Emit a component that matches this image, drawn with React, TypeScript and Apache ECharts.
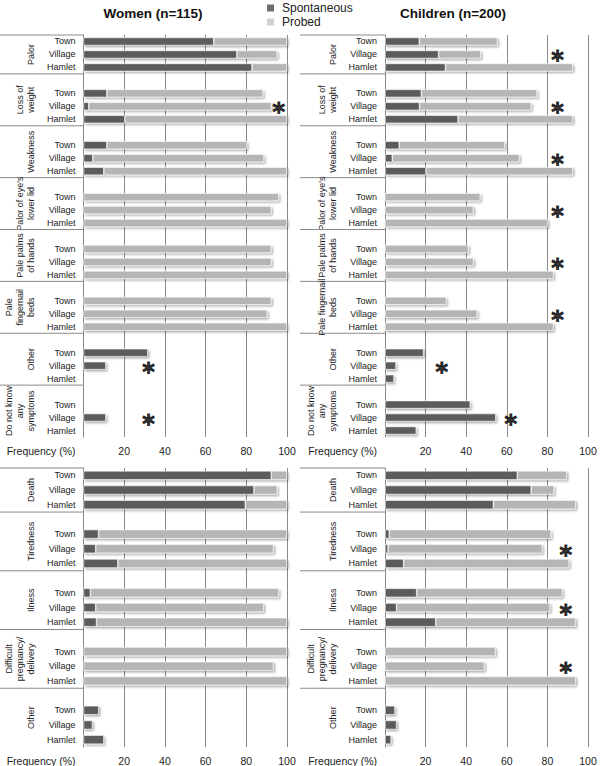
import React, { useEffect, useRef } from "react";
import * as echarts from "echarts";

// ---------- data ----------
const ROWS = ["Town", "Village", "Hamlet"];

const womenTopGroups = ["Palor", "Loss of\nweight", "Weakness", "Palor of eye's\nlower lid", "Pale palms\nof hands", "Pale\nfingernail\nbeds", "Other", "Do not know\nany\nsymptoms"];
const childTopGroups = ["Palor", "Loss of\nweight", "Weakness", "Palor of eye's\nlower lid", "Pale palms\nof hands", "Pale fingernail\nbeds", "Other", "Do not know\nany\nsymptoms"];
const bottomGroups = ["Death", "Tiredness", "Ilness", "Difficult\npregnancy/\ndelivery", "Other"];

// Spontaneous (%) and additional Probed (%) per group: Town, Village, Hamlet
const womenTopSpont = [64, 75.4, 82.8, 11.5, 2.6, 20.3, 11.5, 4.6, 10, 0, 0, 0, 0, 0, 0, 0, 0, 0, 31.6, 11, 0, 0, 11, 0];
const womenTopProbed = [36, 19.8, 17.2, 76.7, 89.7, 79.7, 68.8, 84.1, 90, 96, 92.3, 100, 92.3, 92.3, 100, 92.3, 90.3, 100, 0, 0, 0, 0, 0, 0];
const womenTopStars = [null, 96, null, null, null, null, 32, 32];

const childTopSpont = [16.9, 26.4, 29.8, 17.9, 17, 36, 7, 3.6, 20.2, 0, 0, 0, 0, 0, 0, 0, 0, 0, 19, 5.4, 4.4, 42, 54.6, 15.4];
const childTopProbed = [38.5, 20.8, 62.7, 57, 55, 56.5, 52, 62.6, 72.3, 46.9, 43.6, 80.2, 41.1, 43.6, 83, 30.2, 45.4, 83, 0, 0, 0, 0, 0, 0];
const childTopStars = [85, 85, 85, 85, 85, 85, 28, 62];

const womenBotSpont = [92.3, 83.8, 79.5, 7.4, 6, 16.9, 3.4, 6, 6.4, 0, 0, 0, 7.5, 4.4, 10];
const womenBotProbed = [7.7, 11.4, 20.5, 92.6, 87.4, 83.1, 92.6, 82.5, 93.6, 100, 93.4, 100, 0, 0, 0];
const womenBotStars = [null, null, null, null, null];

const childBotSpont = [65.2, 72, 53.4, 2.1, 1.5, 9.2, 15.6, 5.7, 25, 0, 0, 0, 4.9, 5.7, 3];
const childBotProbed = [24.3, 11.3, 40.5, 79.7, 76, 81.5, 71.8, 75.6, 68.9, 54.4, 49, 93.9, 0, 0, 0];
const childBotStars = [null, 89, 89, 89, null];

const xTicks = [0, 20, 40, 60, 80, 100];
const TITLES = ["Women (n=115)", "Children (n=200)"];
const LEGEND = ["Spontaneous", "Probed"];
const AXIS_NAME = "Frequency (%)";

// ---------- styling ----------
const FONT = "'Liberation Sans', Arial, sans-serif";
const DARK = "#5c5c5c";
const LIGHT = "#b5b5b5";
const LINE = "#8a8a8a";
const LH = 11;

const panels = [
  { groups: womenTopGroups, spont: womenTopSpont, probed: womenTopProbed, stars: womenTopStars, left: 83.5, top: 35, width: 203.5, height: 402, barWidth: 8, panelX: 0 },
  { groups: childTopGroups, spont: childTopSpont, probed: childTopProbed, stars: childTopStars, left: 385, top: 35, width: 203, height: 402, barWidth: 8, panelX: 300 },
  { groups: bottomGroups, spont: womenBotSpont, probed: womenBotProbed, stars: womenBotStars, left: 83.5, top: 468, width: 203.5, height: 279, barWidth: 9, panelX: 0 },
  { groups: bottomGroups, spont: childBotSpont, probed: childBotProbed, stars: childBotStars, left: 385, top: 468, width: 203, height: 279, barWidth: 9, panelX: 300 },
];

function keysFor(groups: string[]) {
  const keys: string[] = [];
  groups.forEach((_, gi) => {
    if (gi > 0) keys.push("blank" + gi);
    ROWS.forEach((r) => keys.push(gi + "|" + r));
  });
  return keys;
}

function seriesData(keys: string[], vals: number[]) {
  let i = 0;
  return keys.map((k) => {
    if (k.startsWith("blank")) return "-";
    const v = vals[i++];
    return v === 0 ? "-" : v;
  });
}

const barItem = (color: string) => ({
  color,
  borderColor: "#ffffff",
  borderWidth: 0.6,
  shadowColor: "rgba(0,0,0,0.35)",
  shadowBlur: 2,
  shadowOffsetX: 1.5,
  shadowOffsetY: 1.5,
});

export default function App() {
  const ref = useRef<HTMLDivElement>(null);
  useEffect(() => {
    if (!ref.current) return;
    const chart = echarts.init(ref.current, null, { renderer: "svg" });
    const grids: any[] = [];
    const xAxes: any[] = [];
    const yAxes: any[] = [];
    const series: any[] = [];
    const allKeys: string[][] = [];
    panels.forEach((p, pi) => {
      const keys = keysFor(p.groups);
      allKeys.push(keys);
      grids.push({ left: p.left, top: p.top, width: p.width, height: p.height, containLabel: false });
      xAxes.push({
        type: "value", gridIndex: pi, min: xTicks[0], max: xTicks[xTicks.length - 1], interval: xTicks[1] - xTicks[0],
        axisLine: { show: false }, axisTick: { show: false },
        splitLine: { show: true, lineStyle: { color: LINE, width: 1 } },
        axisLabel: { fontSize: 10.5, color: "#222", fontFamily: FONT, margin: 8, formatter: (v: number) => (v === 0 ? "" : String(v)) },
      });
      yAxes.push({
        type: "category", gridIndex: pi, data: keys, inverse: true,
        axisLine: { show: true, lineStyle: { color: LINE, width: 1 } },
        axisTick: { show: false },
        splitLine: { show: false },
        axisLabel: { interval: 0, fontSize: 9, color: "#222", fontFamily: FONT, margin: 8, formatter: (k: string) => (k.startsWith("blank") ? "" : k.split("|")[1]) },
      });
      series.push({
        type: "bar", name: LEGEND[0], xAxisIndex: pi, yAxisIndex: pi, stack: "s" + pi, barWidth: p.barWidth,
        data: seriesData(keys, p.spont), itemStyle: barItem(DARK),
      });
      series.push({
        type: "bar", name: LEGEND[1], xAxisIndex: pi, yAxisIndex: pi, stack: "s" + pi, barWidth: p.barWidth,
        data: seriesData(keys, p.probed), itemStyle: barItem(LIGHT),
      });
      const starData = p.stars
        .map((x, gi) => (x == null ? null : [x, gi + "|Village"]))
        .filter((d) => d !== null);
      series.push({
        type: "scatter", xAxisIndex: pi, yAxisIndex: pi, symbolSize: 1, z: 5,
        itemStyle: { color: "rgba(0,0,0,0)" },
        data: starData,
        label: {
          show: true, position: "inside", formatter: "*", fontSize: 24, fontWeight: "bold", color: "#000",
          textBorderColor: "#000", textBorderWidth: 0.9,
          fontFamily: "'DejaVu Sans', sans-serif", offset: [0, 6],
        },
      });
    });

    chart.setOption({
      animation: false,
      backgroundColor: "#ffffff",
      textStyle: { fontFamily: FONT },
      title: [
        { text: TITLES[0], left: 148, top: 1, textAlign: "center", textStyle: { fontSize: 13.5, fontWeight: "bold", color: "#111", fontFamily: FONT } },
        { text: TITLES[1], left: 448, top: 1, textAlign: "center", textStyle: { fontSize: 13.5, fontWeight: "bold", color: "#111", fontFamily: FONT } },
      ],
      legend: {
        orient: "vertical", left: 265, top: 2, padding: 0, itemWidth: 9, itemHeight: 9, itemGap: 2, icon: "rect",
        data: [
          { name: LEGEND[0], itemStyle: { color: "#6e6e6e" } },
          { name: LEGEND[1], itemStyle: { color: "#d2d2d2" } },
        ],
        textStyle: { fontSize: 12, color: "#222", fontFamily: FONT, padding: [0, 0, 0, 2] },
      },
      grid: grids,
      xAxis: xAxes,
      yAxis: yAxes,
      series,
    });

    // group labels & separators using the chart's own coordinate conversion
    const graphic: any[] = [];
    panels.forEach((p, pi) => {
      const keys = allKeys[pi];
      const px = (v: number, k: string) => chart.convertToPixel({ gridIndex: pi }, [v, k]) as number[];
      const axisX = px(0, keys[1])[0];
      const yT = px(0, "0|Town")[1];
      const yV = px(0, "0|Village")[1];
      const slot = yV - yT;
      let bottomY = 0;
      p.groups.forEach((g, gi) => {
        const startKey = gi === 0 ? gi + "|Town" : "blank" + gi;
        const top = px(0, startKey)[1] - slot / 2;
        const bot = px(0, gi + "|Hamlet")[1] + slot / 2;
        bottomY = bot;
        const nLines = g.split("\n").length;
        graphic.push({
          type: "line", silent: true,
          shape: { x1: p.panelX, y1: top, x2: axisX, y2: top },
          style: { stroke: LINE, lineWidth: 1 },
        });
        graphic.push({
          type: "text", silent: true, x: axisX - 47 - (nLines * LH) / 2, y: (top + bot) / 2, rotation: Math.PI / 2,
          style: { text: g, align: "center", verticalAlign: "middle", fontSize: 9, lineHeight: LH, fontFamily: FONT, fill: "#222" },
        });
      });
      graphic.push({
        type: "text", silent: true, x: axisX - 8, y: bottomY + 14,
        style: { text: AXIS_NAME, align: "right", verticalAlign: "middle", fontSize: 10.5, fontFamily: FONT, fill: "#222" },
      });
    });
    chart.setOption({ graphic });

    return () => chart.dispose();
  }, []);
  return <div ref={ref} style={{ position: "fixed", left: 0, top: 0, width: 600, height: 766, background: "#fff" }} />;
}
